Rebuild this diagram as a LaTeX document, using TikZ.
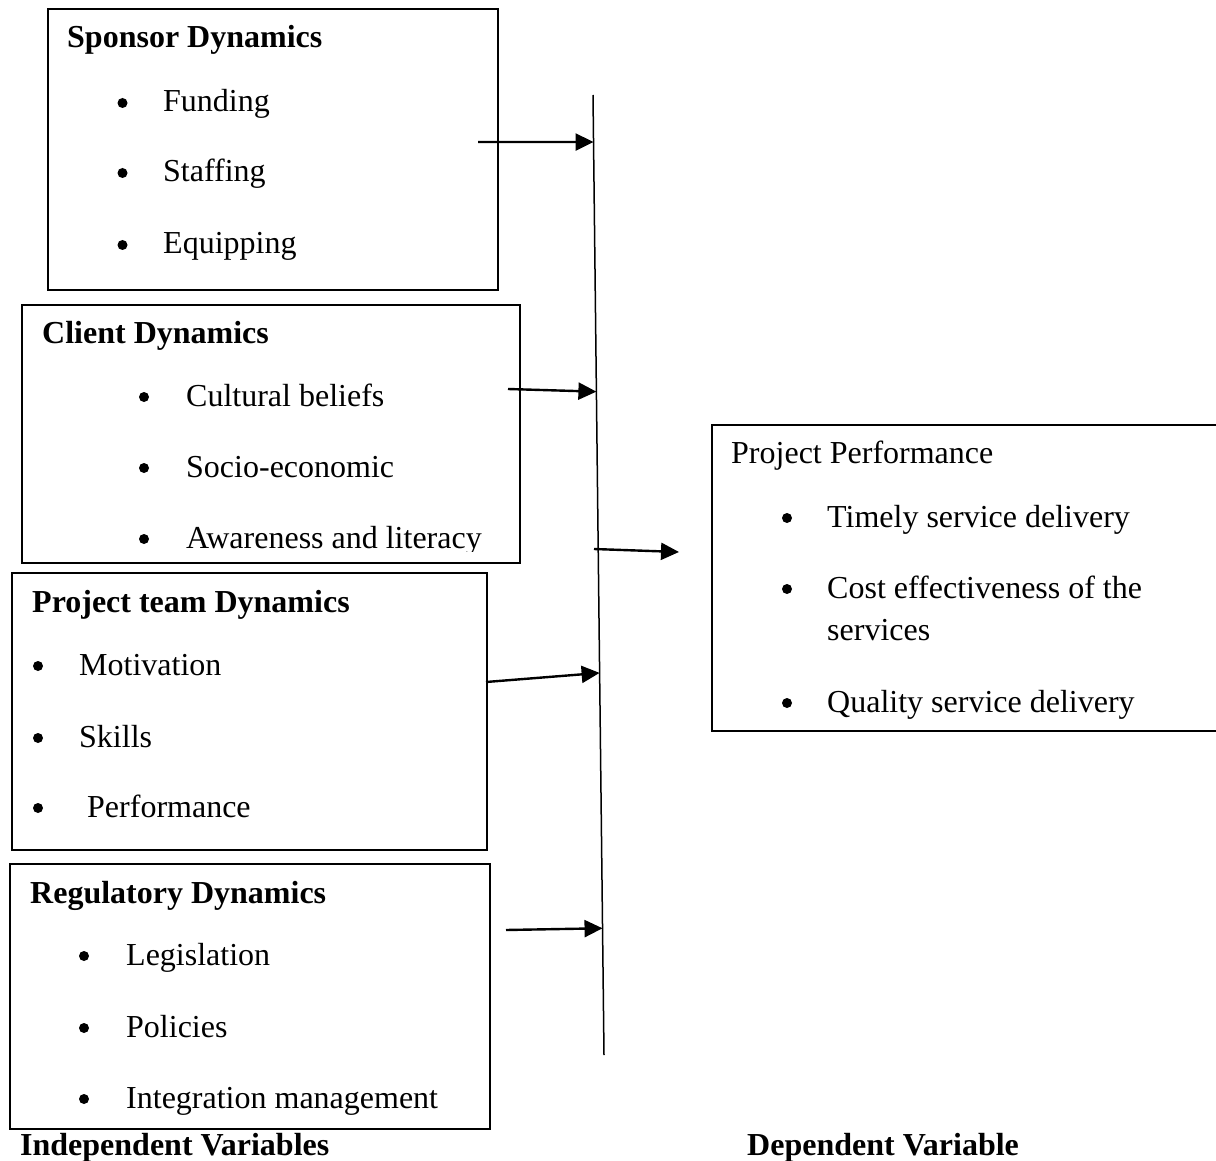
\documentclass[tikz,border=0pt]{standalone}
\usepackage{fontspec}
\setmainfont{Liberation Serif}
\usetikzlibrary{arrows.meta,positioning,calc}

\tikzset{
  dynbox/.style={draw=black,line width=1.8pt,anchor=north west,inner sep=0pt},
  heading/.style={font=\fontsize{32}{38}\selectfont\bfseries,anchor=base west,inner sep=0pt},
  itemtxt/.style={anchor=base west,inner sep=0pt},
  dot/.style={circle,fill=black,inner sep=0pt,minimum size=10pt},
  link/.style={line width=2.4pt,-{Triangle[length=18pt,width=17pt]}}
}

\begin{document}
\begin{tikzpicture}[x=1pt,y=-1pt,font=\fontsize{32}{38}\selectfont]
  \useasboundingbox (0,0) rectangle (1216,1161);

  % independent variable boxes
  \node[dynbox,minimum width=450pt,minimum height=281pt] (sponsor) at (47,8) {};
  \node[dynbox,minimum width=498pt,minimum height=258pt] (client) at (21,304) {};
  \node[dynbox,minimum width=475pt,minimum height=277pt] (team) at (11,572) {};
  \node[dynbox,minimum width=480pt,minimum height=265pt] (regul) at (9,863) {};
  \node[dynbox,minimum width=507pt,minimum height=306pt] (perf) at (711,424) {};

  \node[heading] (sponsor-t) at (67,48) {Sponsor Dynamics};
  \foreach \n/\y/\t in {1/112/Funding,2/182/Staffing,3/254/Equipping}{
    \node[dot] (sponsor-b\n) at (122.5,\y-9) {};
    \node[itemtxt] (sponsor-i\n) at (163,\y) {\t};
  }

  \node[heading] (client-t) at (42,343) {Client Dynamics};
  \foreach \n/\y/\t in {1/406/Cultural beliefs,2/477/Socio-economic}{
    \node[dot] (client-b\n) at (144,\y-9) {};
    \node[itemtxt] (client-i\n) at (186,\y) {\t};
  }
  \node[dot] (client-b3) at (144,539) {};
  \begin{scope}
    \clip (0,0) rectangle (1216,551);
    \node[itemtxt] (client-i3) at (186,548) {Awareness and literacy};
  \end{scope}

  \node[heading] (team-t) at (32,612) {Project team Dynamics};
  \foreach \n/\y/\x/\t in {1/675/79/Motivation,2/747/79/Skills,3/817/87/Performance}{
    \node[dot] (team-b\n) at (38,\y-9) {};
    \node[itemtxt] (team-i\n) at (\x,\y) {\t};
  }

  \node[heading] (regul-t) at (30,903) {Regulatory Dynamics};
  \foreach \n/\y/\t in {1/965/Legislation,2/1037/Policies,3/1108/Integration management}{
    \node[dot] (regul-b\n) at (84,\y-9) {};
    \node[itemtxt] (regul-i\n) at (126,\y) {\t};
  }

  % dependent variable box
  \node[itemtxt] (perf-t) at (731,463) {Project Performance};
  \foreach \n/\y/\t in {1/527/Timely service delivery,2/598/Cost effectiveness of the,4/712/Quality service delivery}{
    \node[dot] (perf-b\n) at (787,\y-9) {};
    \node[itemtxt] (perf-i\n) at (827,\y) {\t};
  }
  \node[itemtxt] (perf-i3) at (827,640) {services};

  % axis and arrows
  \coordinate (axtop) at (593,95);
  \coordinate (axbot) at (604,1055);
  \draw[line width=1.5pt] (axtop) -- (axbot);

  \coordinate (s1) at (478,142);
  \coordinate (s2) at (508,389);
  \coordinate (s3) at (486,682);
  \coordinate (s4) at (506,930);
  \draw[link] (s1) -- ($(axtop)!0.049!(axbot)$);
  \draw[link] (s2) -- ($(axtop)!0.309!(axbot)$);
  \draw[link] (s3) -- ($(axtop)!0.602!(axbot)$);
  \draw[link] (s4) -- ($(axtop)!0.868!(axbot)$);

  \coordinate (s5) at (594,549);
  \coordinate (e5) at (679,552);
  \draw[link] (s5) -- (e5);

  \node[heading] (indep) at (20,1155) {Independent Variables};
  \node[heading] (dep) at (747,1155) {Dependent Variable};
\end{tikzpicture}
\end{document}
